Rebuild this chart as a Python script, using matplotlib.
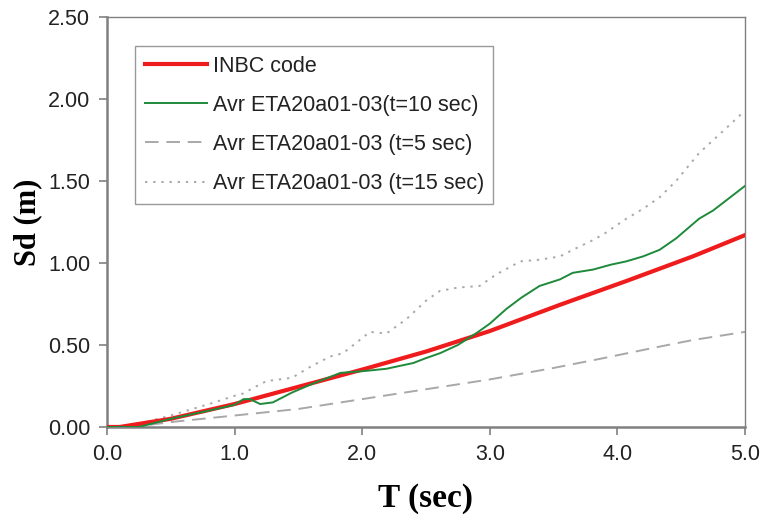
import matplotlib
matplotlib.use("Agg")
import matplotlib.pyplot as plt

# INBC code spectrum
t_code = [0, 0.1, 0.5, 1.0, 1.5, 2.0, 2.5, 3.0, 3.55, 4.07, 4.59, 5.0]
sd_code = [0, 0, 0.05, 0.14, 0.245, 0.35, 0.46, 0.585, 0.745, 0.89, 1.04, 1.17]

# Avr ETA20a01-03, t=10 sec
t_10 = [0, 0.25, 0.5, 0.8, 1.0, 1.07, 1.12, 1.2, 1.3, 1.45, 1.6, 1.83, 2.0, 2.19,
        2.4, 2.5, 2.61, 2.75, 2.9, 3.0, 3.13, 3.25, 3.39, 3.55, 3.65, 3.81, 3.95,
        4.07, 4.2, 4.33, 4.46, 4.55, 4.64, 4.75, 4.85, 5.0]
sd_10 = [0, 0, 0.05, 0.1, 0.135, 0.17, 0.17, 0.14, 0.15, 0.21, 0.26, 0.33, 0.34, 0.355,
         0.39, 0.42, 0.45, 0.50, 0.575, 0.63, 0.72, 0.79, 0.86, 0.90, 0.94, 0.96, 0.99,
         1.01, 1.04, 1.08, 1.15, 1.21, 1.27, 1.32, 1.38, 1.47]

# Avr ETA20a01-03, t=5 sec
t_5 = [0, 0.2, 0.5, 1.0, 1.5, 2.0, 2.5, 3.0, 3.5, 3.86, 4.33, 4.59, 5.0]
sd_5 = [0, 0, 0.03, 0.07, 0.11, 0.17, 0.23, 0.29, 0.36, 0.415, 0.49, 0.53, 0.58]

# Avr ETA20a01-03, t=15 sec
t_15 = [0, 0.2, 0.5, 0.8, 1.0, 1.07, 1.15, 1.25, 1.45, 1.6, 1.75, 1.85, 1.98, 2.06,
        2.19, 2.35, 2.5, 2.61, 2.75, 2.92, 3.05, 3.24, 3.39, 3.55, 3.65, 3.81, 3.9,
        4.07, 4.2, 4.33, 4.46, 4.64, 4.85, 5.0]
sd_15 = [0, 0.01, 0.07, 0.14, 0.19, 0.205, 0.24, 0.28, 0.30, 0.37, 0.43, 0.45, 0.53, 0.58,
         0.57, 0.66, 0.77, 0.83, 0.85, 0.86, 0.93, 1.01, 1.02, 1.04, 1.08, 1.14, 1.18,
         1.27, 1.33, 1.40, 1.50, 1.67, 1.82, 1.93]

x_ticks = [0, 1, 2, 3, 4, 5]
y_ticks = [0, 0.5, 1.0, 1.5, 2.0, 2.5]

plt.rcParams['font.family'] = ['Liberation Sans', 'DejaVu Sans']
grey = '#808080'

fig = plt.figure(figsize=(7.63, 5.17), dpi=100)
ax = fig.add_axes([0.1402, 0.1741, 0.8362, 0.793])

ax.plot(t_code, sd_code, color='#ee1c1c', lw=3.0, label='INBC code', zorder=3)
ax.plot(t_10, sd_10, color='#1e8a3a', lw=1.4, label='Avr ETA20a01-03(t=10 sec)', zorder=4)
ax.plot(t_5, sd_5, color='#a8a8a8', lw=1.4, ls=(0, (7, 4)), label='Avr ETA20a01-03 (t=5 sec)')
ax.plot(t_15, sd_15, color='#a8a8a8', lw=1.4, ls=(0, (1.2, 3)), label='Avr ETA20a01-03 (t=15 sec)')

ax.set_xlim(0, 5)
ax.set_ylim(0, 2.5)
ax.set_xticks(x_ticks, labels=[f'{v:.1f}' for v in x_ticks])
ax.set_yticks(y_ticks, labels=[f'{v:.2f}' for v in y_ticks])
ax.tick_params(direction='out', length=6, width=1.2, color=grey, labelsize=15.5,
               labelcolor='#222222', pad=6)

for side in ['left', 'bottom']:
    ax.spines[side].set_color(grey)
    ax.spines[side].set_linewidth(1.8)
for side in ['top', 'right']:
    ax.spines[side].set_color(grey)
    ax.spines[side].set_linewidth(1.0)

ax.set_xlabel('T (sec)', fontfamily='Liberation Serif', fontweight='bold', fontsize=24, labelpad=13)
ax.set_ylabel('Sd (m)', fontfamily='Liberation Serif', fontweight='bold', fontsize=22, labelpad=4)

leg = ax.legend(loc='upper left', bbox_to_anchor=(0.044, 0.929), fontsize=15.5, frameon=True,
                fancybox=False, edgecolor=grey, handlelength=2.9, handletextpad=0.25,
                labelspacing=0.84, borderpad=0.45, borderaxespad=0)
leg.get_frame().set_linewidth(1.0)
for t in leg.get_texts():
    t.set_color('#222222')

fig.savefig('out.png', dpi=100)
